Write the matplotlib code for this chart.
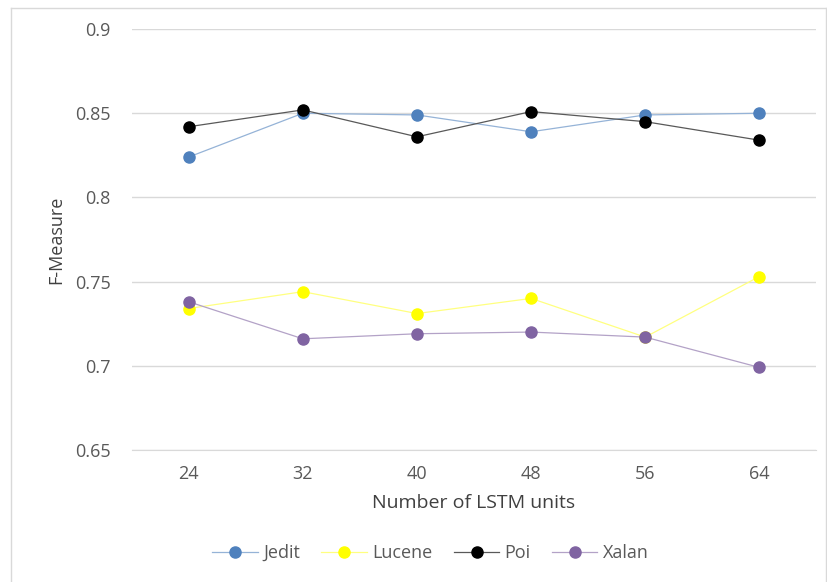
import matplotlib
matplotlib.use('Agg')
import matplotlib.pyplot as plt
from matplotlib.lines import Line2D

plt.rcParams['font.family'] = ['Open Sans', 'DejaVu Sans']

# DANE
units = ['24', '32', '40', '48', '56', '64']
jedit = [0.824, 0.850, 0.849, 0.839, 0.849, 0.850]
lucene = [0.734, 0.744, 0.731, 0.740, 0.717, 0.753]
poi = [0.842, 0.852, 0.836, 0.851, 0.845, 0.834]
xalan = [0.738, 0.716, 0.719, 0.720, 0.717, 0.699]

series = [('Jedit', jedit, '#4f81bd', '#95b3d7'),
          ('Lucene', lucene, '#ffff00', '#ffff80'),
          ('Poi', poi, '#000000', '#595959'),
          ('Xalan', xalan, '#8064a2', '#b3a2c7')]

fig = plt.figure(figsize=(8.28, 5.82), dpi=100)
ax = fig.add_axes([0.159, 0.227, 0.827, 0.723])

x = range(len(units))
for name, vals, mc, lc in series:
    ax.plot(x, vals, color=lc, linewidth=0.9, marker='o', markersize=8,
            markerfacecolor=mc, markeredgecolor=mc, label=name)

ax.set_xlim(-0.5, len(units) - 0.5)
ax.set_ylim(0.65, 0.9)
ax.set_yticks([0.65, 0.7, 0.75, 0.8, 0.85, 0.9])
ax.set_yticklabels(['0.65', '0.7', '0.75', '0.8', '0.85', '0.9'])
ax.set_xticks(list(x))
ax.set_xticklabels(units)
ax.grid(axis='y', color='#d9d9d9', linewidth=1)
ax.set_axisbelow(True)
for s in ['top', 'right', 'left']:
    ax.spines[s].set_visible(False)
ax.spines['bottom'].set_color('#d9d9d9')
ax.tick_params(axis='both', length=0, labelsize=13, colors='#595959')
ax.tick_params(axis='x', pad=11)
ax.tick_params(axis='y', pad=15)

ax.set_xlabel('Number of LSTM units', fontsize=14, color='#404040', labelpad=8)
ax.set_ylabel('F-Measure', fontsize=13, color='#404040', labelpad=7)

handles = [Line2D([0], [0], color=lc, linewidth=0.9, marker='o', markersize=8,
                  markerfacecolor=mc, markeredgecolor=mc) for _, _, mc, lc in series]
fig.legend(handles, [s[0] for s in series], loc='center', bbox_to_anchor=(0.52, 0.05),
           ncol=4, frameon=False, fontsize=13, handlelength=2.5, handletextpad=0.3,
           columnspacing=1.2, labelcolor='#595959')

# ramka
fig.add_artist(Line2D([0.013, 0.013], [0, 0.986], transform=fig.transFigure, color='#d9d9d9', linewidth=1))
fig.add_artist(Line2D([0.013, 0.998], [0.986, 0.986], transform=fig.transFigure, color='#d9d9d9', linewidth=1))
fig.add_artist(Line2D([0.998, 0.998], [0, 0.986], transform=fig.transFigure, color='#d9d9d9', linewidth=1))

fig.savefig('out.png', dpi=100)
